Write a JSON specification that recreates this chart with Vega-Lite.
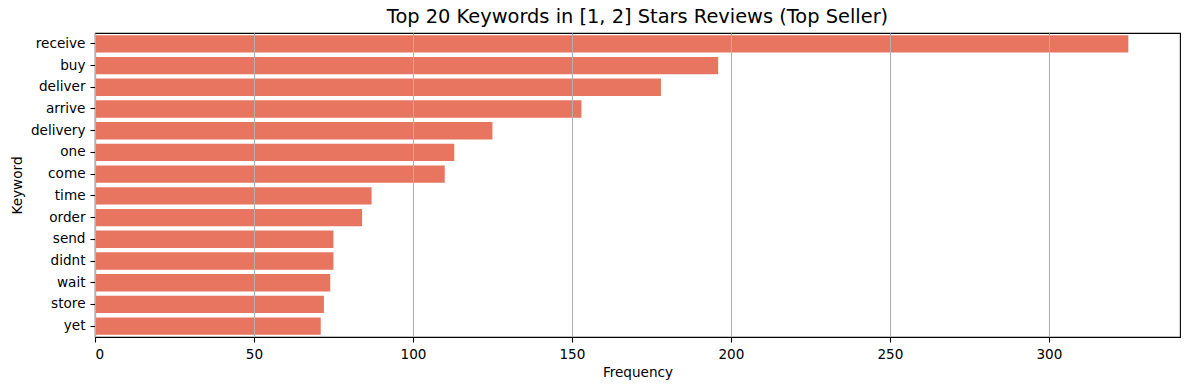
{
  "$schema": "https://vega.github.io/schema/vega-lite/v6.json",
  "autosize": {"type": "none"},
  "width": 1085,
  "height": 304,
  "padding": {"left": 95, "top": 33, "right": 9, "bottom": 53},
  "background": "white",
  "title": {
    "text": "Top 20 Keywords in [1, 2] Stars Reviews (Top Seller)",
    "font": "DejaVu Sans",
    "fontSize": 19.4,
    "fontWeight": "normal",
    "color": "#000000",
    "anchor": "middle",
    "offset": 6
  },
  "config": {
    "view": {"stroke": "#000000", "strokeWidth": 1.1},
    "axis": {
      "labelFont": "DejaVu Sans",
      "labelFontSize": 13.6,
      "labelColor": "#000000",
      "titleFont": "DejaVu Sans",
      "titleFontSize": 13.6,
      "titleFontWeight": "normal",
      "titleColor": "#000000",
      "tickColor": "#000000",
      "tickSize": 5,
      "tickWidth": 1.1,
      "domainColor": "#000000",
      "domainWidth": 1.1,
      "labelPadding": 5
    }
  },
  "data": {
    "values": [
      {"keyword": "receive", "frequency": 325},
      {"keyword": "buy", "frequency": 196},
      {"keyword": "deliver", "frequency": 178},
      {"keyword": "arrive", "frequency": 153},
      {"keyword": "delivery", "frequency": 125},
      {"keyword": "one", "frequency": 113},
      {"keyword": "come", "frequency": 110},
      {"keyword": "time", "frequency": 87},
      {"keyword": "order", "frequency": 84},
      {"keyword": "send", "frequency": 75},
      {"keyword": "didnt", "frequency": 75},
      {"keyword": "wait", "frequency": 74},
      {"keyword": "store", "frequency": 72},
      {"keyword": "yet", "frequency": 71}
    ]
  },
  "mark": {"type": "bar", "color": "#e8755f"},
  "encoding": {
    "y": {
      "field": "keyword",
      "type": "nominal",
      "sort": null,
      "title": "Keyword",
      "scale": {"paddingInner": 0.2, "paddingOuter": 0.1},
      "axis": {"grid": false, "titlePadding": 6}
    },
    "x": {
      "field": "frequency",
      "type": "quantitative",
      "title": "Frequency",
      "scale": {"domain": [0, 341.25], "nice": false},
      "axis": {
        "values": [0, 50, 100, 150, 200, 250, 300],
        "grid": true,
        "gridColor": "#b0b0b0",
        "gridWidth": 1.1,
        "zindex": 1,
        "titlePadding": 5
      }
    }
  }
}
